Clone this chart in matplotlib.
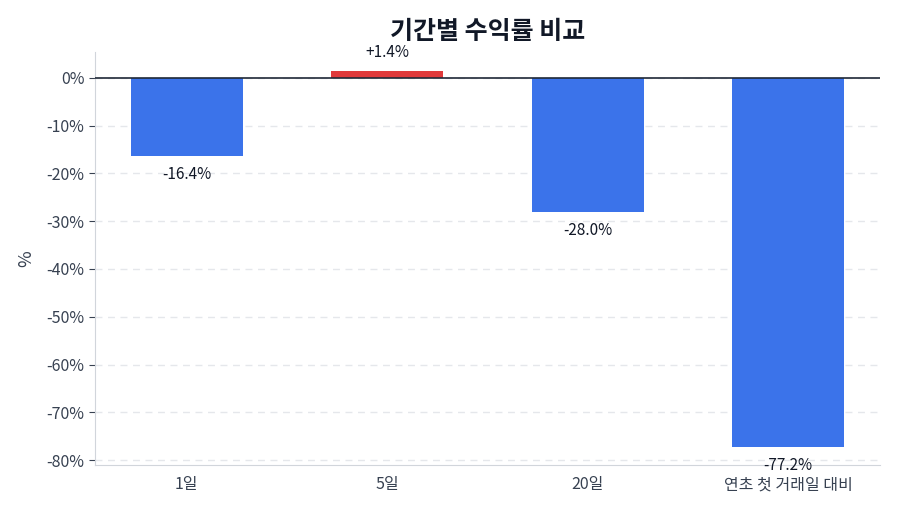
import matplotlib
matplotlib.use("Agg")
import matplotlib.pyplot as plt

plt.rcParams['font.family'] = ['Noto Sans CJK KR', 'DejaVu Sans']

periods = ["1일", "5일", "20일", "연초 첫 거래일 대비"]
returns = [-16.4, 1.4, -28.0, -77.2]
yticks = [0, -10, -20, -30, -40, -50, -60, -70, -80]

blue = "#3b73ea"
red = "#e0393b"
text_color = "#374151"

fig = plt.figure(figsize=(9, 5.14), dpi=100)
ax = fig.add_axes([0.1056, 0.095, 0.872, 0.804])

colors = [red if v > 0 else blue for v in returns]
x = list(range(len(periods)))
ax.bar(x, returns, width=0.56, color=colors, zorder=3)

ax.axhline(0, color="#1f2937", linewidth=1.2, zorder=4)

for xi, v in zip(x, returns):
    label = f"+{v:.1f}%" if v > 0 else f"{v:.1f}%"
    if v > 0:
        ax.annotate(label, (xi, v), xytext=(0, 7), textcoords="offset points",
                    ha="center", va="bottom", fontsize=11, color="#111827")
    else:
        ax.annotate(label, (xi, v), xytext=(0, -13.5), textcoords="offset points",
                    ha="center", va="center", fontsize=11, color="#111827")

ax.set_ylim(-81.06, 5.4)
ax.set_xticks(x)
ax.set_xticklabels(periods, fontsize=11.5, color=text_color)
ax.set_yticks(yticks)
ax.set_yticklabels([f"{t}%" for t in yticks], fontsize=11.5, color=text_color)
ax.set_ylabel("%", fontsize=13, color=text_color, labelpad=8)

ax.grid(axis="y", linestyle=(0, (5, 4)), color="#e5e7eb", linewidth=1, zorder=0)
ax.set_axisbelow(True)

for s in ["top", "right"]:
    ax.spines[s].set_visible(False)
for s in ["left", "bottom"]:
    ax.spines[s].set_color("#d1d5db")
ax.tick_params(axis="x", length=0, pad=8)
ax.tick_params(axis="y", color="#374151", length=4)

ax.set_title("기간별 수익률 비교", fontsize=18, fontweight="bold", color="#111827", pad=9)

fig.savefig("out.png", dpi=100)
